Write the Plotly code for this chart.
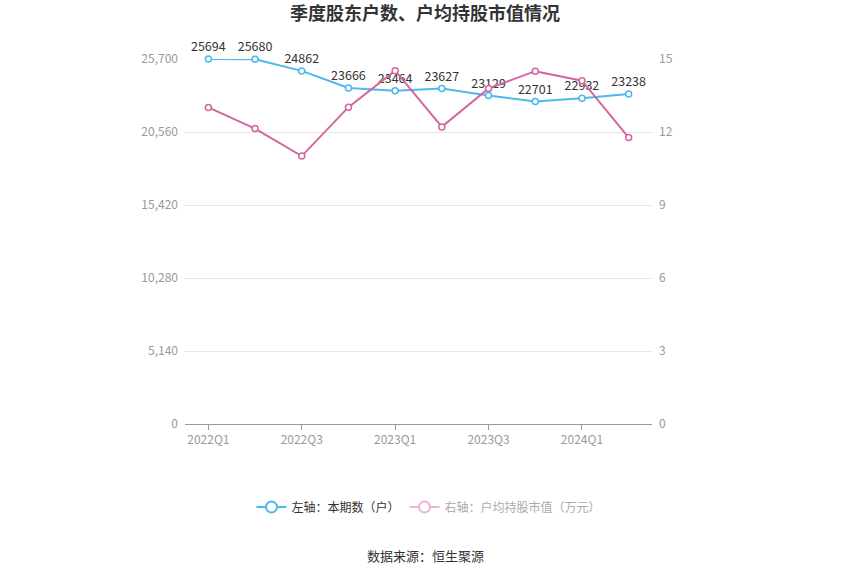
import plotly.graph_objects as go

quarters = ['2022Q1', '2022Q2', '2022Q3', '2022Q4', '2023Q1',
            '2023Q2', '2023Q3', '2023Q4', '2024Q1', '2024Q2']
holders = [25694, 25680, 24862, 23666, 23464, 23627, 23129, 22701, 22932, 23238]
avg_value = [13.01, 12.14, 11.01, 13.02, 14.52, 12.21, 13.79, 14.50, 14.11, 11.77]
shown_ticks = ['2022Q1', '2022Q3', '2023Q1', '2023Q3', '2024Q1']

blue = '#4cb8ee'
pink = '#d3659f'
font = 'Noto Sans CJK SC'

fig = go.Figure()

# left axis: shareholder count
fig.add_trace(go.Scatter(
    x=quarters, y=holders, mode='lines+markers+text',
    text=[str(v) for v in holders], textposition='top center',
    textfont=dict(size=12.5, color='#333333'),
    line=dict(color=blue, width=2),
    marker=dict(symbol='circle', size=6, color='white', line=dict(color=blue, width=1.5)),
    showlegend=False, cliponaxis=False,
))

# right axis: average holding value
fig.add_trace(go.Scatter(
    x=quarters, y=avg_value, mode='lines+markers', yaxis='y2',
    line=dict(color=pink, width=2),
    marker=dict(symbol='circle', size=6, color='white', line=dict(color=pink, width=1.5)),
    showlegend=False, cliponaxis=False,
))

# legend entries
fig.add_trace(go.Scatter(
    x=[None], y=[None], mode='lines+markers', name='左轴：本期数（户）',
    line=dict(color=blue, width=2),
    marker=dict(symbol='circle', size=11, color='white', line=dict(color=blue, width=2)),
))
fig.add_trace(go.Scatter(
    x=[None], y=[None], mode='lines+markers',
    name='<span style="color:#aaaaaa">右轴：户均持股市值（万元）</span>',
    line=dict(color='#f0b3d2', width=2),
    marker=dict(symbol='circle', size=11, color='white', line=dict(color='#f0b3d2', width=2)),
))

fig.update_layout(
    width=850, height=575,
    margin=dict(l=185, r=850 - 652, t=59, b=575 - 424),
    paper_bgcolor='white', plot_bgcolor='white',
    font=dict(family=font, size=12, color='#333333'),
    title=dict(text='<b>季度股东户数、户均持股市值情况</b>', x=0.5, xanchor='center',
               y=1 - 14 / 575, yanchor='middle',
               font=dict(size=18, color='#333333', family=font)),
    xaxis=dict(
        type='category', categoryorder='array', categoryarray=quarters,
        range=[-0.5, len(quarters) - 0.5],
        tickmode='array', tickvals=shown_ticks, ticktext=shown_ticks,
        ticks='outside', ticklen=5, tickcolor='#999999',
        showline=True, linecolor='#999999', linewidth=1,
        showgrid=False, tickfont=dict(size=12, color='#999999'),
    ),
    yaxis=dict(
        range=[0, 25700], tickmode='linear', tick0=0, dtick=5140,
        tickformat=',', showgrid=True, gridcolor='#e6e6e6',
        zeroline=False, showline=False, ticks='',
        tickfont=dict(size=12, color='#999999'), ticklabelstandoff=6,
    ),
    yaxis2=dict(
        range=[0, 15], tickmode='linear', tick0=0, dtick=3,
        overlaying='y', side='right', showgrid=False,
        zeroline=False, showline=False, ticks='',
        tickfont=dict(size=12, color='#999999'), ticklabelstandoff=6,
    ),
    legend=dict(orientation='h', x=(429 - 185) / 467, xanchor='center',
                y=-83 / 365, yanchor='middle',
                font=dict(size=12, color='#333333'), itemwidth=30),
    annotations=[dict(text='数据来源：恒生聚源', xref='paper', yref='paper',
                      x=(425 - 185) / 467, y=-131 / 365, xanchor='center', yanchor='middle',
                      showarrow=False, font=dict(size=13, color='#333333'))],
)

# drop the default body margin so the figure sits at the window's corner
fig.write_html('out.html', config={'displayModeBar': False},
               post_script="document.body.style.margin='0';")
